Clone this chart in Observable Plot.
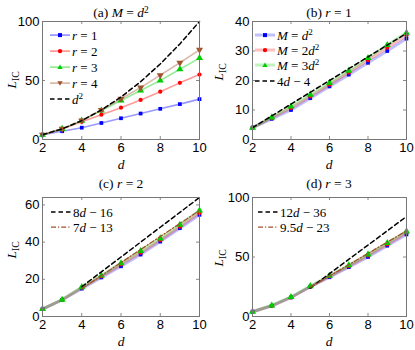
<!DOCTYPE html>
<html><head><meta charset="utf-8">
<script src="https://cdn.jsdelivr.net/npm/d3@7"></script>
<script src="https://cdn.jsdelivr.net/npm/@observablehq/plot@0.6"></script>
<style>
body{margin:0;background:#fff;}
#fig{position:relative;width:415px;height:350px;overflow:hidden;background:#fff;}
.panel{position:absolute;}
.t{position:absolute;font-family:"Liberation Serif","Times New Roman",serif;font-size:13.5px;white-space:nowrap;color:#000;transform:translate(-50%,-50%);line-height:1;}
.t i{font-style:italic;}
.t sup{font-size:70%;vertical-align:0.5em;line-height:0;}
.ylab{transform:translate(-50%,-50%) rotate(-90deg);}
.ylab sub{font-size:72%;font-style:normal;vertical-align:-0.3em;line-height:0;}
.leg{position:absolute;display:flex;align-items:center;font-family:"Liberation Serif","Times New Roman",serif;font-size:13px;white-space:nowrap;transform:translateY(-50%);line-height:1;}
.leg svg{margin-right:2px;}
.leg sup{font-size:70%;vertical-align:0.5em;line-height:0;}
</style></head>
<body><div id="fig"></div>
<script>
// ---------- data ----------
const dVals = [2, 3, 4, 5, 6, 7, 8, 9, 10];
const xTicks = [2, 4, 6, 8, 10];

// panel (a): M = d^2, different r
const aR1 = [4, 7, 10, 14, 18, 22, 26, 30, 34.2];
const aR2 = [4, 9, 15, 21, 27, 33.5, 40.5, 48, 55];
const aR3 = [4, 9, 16, 24.5, 33, 41.5, 50, 59.5, 69];
const aR4 = [4, 9, 16, 25, 34.5, 44, 54.5, 65, 76];
const aD2 = [4, 9, 16, 25, 36, 49, 64, 81, 100];
const aYTicks = [0, 50, 100];

// panel (b): r = 1, different M
const bM1 = [4, 7, 10, 14, 18, 22, 26, 30, 34.2];
const bM2 = [4, 7.3, 10.7, 14.6, 18.6, 22.7, 26.9, 31.1, 35.3];
const bM3 = [4, 7.5, 11.2, 15.2, 19.2, 23.3, 27.6, 32, 36.2];
const bRef = [4, 8, 12, 16, 20, 24, 28, 32, 36];          // 4d - 4
const bYTicks = [0, 10, 20, 30, 40];

// panel (c): r = 2
const cM1 = [4, 9, 15, 21, 27, 33.3, 40.3, 47.5, 54.7];
const cM2 = [4, 9, 15.5, 21.5, 28, 34.3, 41, 48.3, 55.7];
const cM3 = [4, 9, 15.8, 22, 28.6, 35.2, 42, 49.3, 57];
const cRefD = [4, 5, 6, 7, 8, 9, 10];
const cRef1 = [16, 24, 32, 40, 48, 56, 64];                // 8d - 16
const cRef2 = [15, 22, 29, 36, 43, 50, 57];                // 7d - 13
const cYTicks = [0, 20, 40, 60];

// panel (d): r = 3
const dM1 = [4, 9, 16, 25, 33, 41.5, 50, 59.5, 69];
const dM2 = [4, 9, 16, 25, 33.7, 42.3, 51.2, 60.6, 70.3];
const dM3 = [4, 9.3, 16.4, 25.5, 34.2, 43, 52.2, 61.7, 71.5];
const dRefD = [5, 6, 7, 8, 9, 10];
const dRef1 = [24, 36, 48, 60, 72, 84];                    // 12d - 36
const dRef2 = [24.5, 34, 43.5, 53, 62.5, 72];              // 9.5d - 23
const dYTicks = [0, 50, 100];

// ---------- styles ----------
const sqrt3 = Math.sqrt(3);
const triDown = {draw(ctx, size){const y = -Math.sqrt(size/(sqrt3*3)); ctx.moveTo(0,-y*2); ctx.lineTo(-sqrt3*y, y); ctx.lineTo(sqrt3*y, y); ctx.closePath();}};
const sty = {
  blue:  {c:"#0000ff", sym:"square", r:2.1},
  red:   {c:"#ff0000", sym:"circle", r:2.1},
  green: {c:"#00cc00", sym:"triangle", r:2.6},
  brown: {c:"#a0522d", sym:triDown, r:2.6}
};

function tab(xs, ys){ return xs.map((x,i)=>({x, y: ys[i]})); }

function panel(o){
  const pw = o.w - o.ml - o.mr, ph = o.h - o.mt - o.mb;
  const marks = [
    Plot.axisX(xTicks, {tickSize:0, tickPadding:3, label:null, fontSize:13}),
    Plot.axisY(o.yTicks, {tickSize:0, tickPadding:3, label:null, fontSize:13}),
    Plot.tickX(xTicks, {x:d=>d, insetTop: ph-3, stroke:"#888"}),
    Plot.tickX(xTicks, {x:d=>d, insetBottom: ph-3, stroke:"#888"}),
    Plot.tickY(o.yTicks, {y:d=>d, insetLeft: pw-3, stroke:"#888"}),
    Plot.tickY(o.yTicks, {y:d=>d, insetRight: pw-3, stroke:"#888"}),
  ];
  for (const s of o.series){
    const t = tab(dVals, s.v);
    marks.push(Plot.line(t, {x:"x", y:"y", stroke:s.st.c, strokeOpacity:o.lineOp, strokeWidth:o.lineW}));
  }
  for (const s of o.series){
    const t = tab(dVals, s.v);
    marks.push(Plot.dot(t, {x:"x", y:"y", fill:s.st.c, stroke:"none", symbol:s.st.sym, r:s.st.r}));
  }
  for (const rf of o.refs){
    marks.push(Plot.line(tab(rf.x, rf.v), {x:"x", y:"y", stroke:rf.c, strokeWidth:rf.w, strokeDasharray:rf.dash}));
  }
  marks.push(Plot.frame({stroke:"#777"}));
  const svg = Plot.plot({
    width:o.w, height:o.h, marginLeft:o.ml, marginRight:o.mr, marginTop:o.mt, marginBottom:o.mb,
    x:{domain:[2,10]}, y:{domain:[0,o.ymax]},
    style:{fontFamily:"'Liberation Sans', Arial, sans-serif", fontSize:"13px", color:"#000", background:"transparent", overflow:"visible"},
    marks
  });
  const div = document.createElement("div");
  div.className = "panel";
  div.style.left = o.left+"px"; div.style.top = o.top+"px";
  div.appendChild(svg);
  document.getElementById("fig").appendChild(div);
}

const dashK = "4.5,3";
const dashDot = "5,2,1.2,2";

panel({left:0, top:0, w:210, h:175, ml:42, mr:11, mt:21, mb:36, ymax:100, yTicks:aYTicks, lineOp:0.4, lineW:1.6,
  series:[{v:aR1, st:sty.blue},{v:aR2, st:sty.red},{v:aR3, st:sty.green},{v:aR4, st:sty.brown}],
  refs:[{x:dVals, v:aD2, c:"#000", w:1.5, dash:dashK}]});
panel({left:210, top:0, w:205, h:175, ml:42, mr:9, mt:21, mb:36, ymax:40, yTicks:bYTicks, lineOp:0.25, lineW:3,
  series:[{v:bM1, st:sty.blue},{v:bM2, st:sty.red},{v:bM3, st:sty.green}],
  refs:[{x:dVals, v:bRef, c:"#000", w:1.5, dash:dashK}]});
panel({left:0, top:175, w:210, h:175, ml:42, mr:11, mt:22, mb:34, ymax:64, yTicks:cYTicks, lineOp:0.25, lineW:3,
  series:[{v:cM1, st:sty.blue},{v:cM2, st:sty.red},{v:cM3, st:sty.green}],
  refs:[{x:cRefD, v:cRef1, c:"#000", w:1.5, dash:dashK},{x:cRefD, v:cRef2, c:"#a0522d", w:1.3, dash:dashDot}]});
panel({left:210, top:175, w:205, h:175, ml:42, mr:9, mt:22, mb:34, ymax:100, yTicks:dYTicks, lineOp:0.25, lineW:3,
  series:[{v:dM1, st:sty.blue},{v:dM2, st:sty.red},{v:dM3, st:sty.green}],
  refs:[{x:dRefD, v:dRef1, c:"#000", w:1.5, dash:dashK},{x:dRefD, v:dRef2, c:"#a0522d", w:1.3, dash:dashDot}]});

// ---------- text ----------
const fig = document.getElementById("fig");
function txt(html, x, y, cls){ const e=document.createElement("div"); e.className="t"+(cls?" "+cls:""); e.style.left=x+"px"; e.style.top=y+"px"; e.innerHTML=html; fig.appendChild(e); }
txt("(a) <i>M</i> = <i>d</i><sup>2</sup>", 121, 13);
txt("(b) <i>r</i> = 1", 329, 13);
txt("(c) <i>r</i> = 2", 121, 184);
txt("(d) <i>r</i> = 3", 329, 184);
for (const [x,y] of [[121,165],[329,165],[121,342],[329,342]]) txt("<i>d</i>", x, y);
for (const [x,y] of [[12,80],[219,72],[12,250],[219,258]]) txt("<i>L</i><sub>IC</sub>", x, y, "ylab");

// ---------- legends ----------
function sym(st){
  const c = st.c;
  if (st.sym==="square") return `<rect x="8" y="2.6" width="4" height="4" fill="${c}"/>`;
  if (st.sym==="circle") return `<circle cx="10" cy="4.6" r="2.2" fill="${c}"/>`;
  if (st.sym==="triangle") return `<polygon points="10,1.9 12.7,6.4 7.3,6.4" fill="${c}"/>`;
  return `<polygon points="10,7.3 12.7,2.8 7.3,2.8" fill="${c}"/>`;
}
function leg(x, y, html, opt){
  const e=document.createElement("div"); e.className="leg"; e.style.left=x+"px"; e.style.top=y+"px";
  let s = `<svg width="20" height="9" viewBox="0 0 20 9">`;
  if (opt.st) s += `<line x1="0" y1="4.6" x2="20" y2="4.6" stroke="${opt.st.c}" stroke-opacity="${opt.op}" stroke-width="${opt.w}"/>` + sym(opt.st);
  else s += `<line x1="0" y1="4.6" x2="20" y2="4.6" stroke="${opt.c}" stroke-width="${opt.w}" stroke-dasharray="${opt.dash}"/>`;
  s += `</svg>`;
  e.innerHTML = s + `<span>${html}</span>`;
  fig.appendChild(e);
}
leg(50, 35, "<i>r</i> = 1", {st:sty.blue, op:0.4, w:1.6});
leg(50, 51, "<i>r</i> = 2", {st:sty.red, op:0.4, w:1.6});
leg(50, 67, "<i>r</i> = 3", {st:sty.green, op:0.4, w:1.6});
leg(50, 83, "<i>r</i> = 4", {st:sty.brown, op:0.4, w:1.6});
leg(50, 99, "<i>d</i><sup>2</sup>", {c:"#000", w:1.5, dash:dashK});

leg(255, 35, "<i>M</i> = <i>d</i><sup>2</sup>", {st:sty.blue, op:0.25, w:3});
leg(255, 50, "<i>M</i> = 2<i>d</i><sup>2</sup>", {st:sty.red, op:0.25, w:3});
leg(255, 65, "<i>M</i> = 3<i>d</i><sup>2</sup>", {st:sty.green, op:0.25, w:3});
leg(255, 81, "4<i>d</i> − 4", {c:"#000", w:1.5, dash:dashK});

leg(51, 212, "8<i>d</i> − 16", {c:"#000", w:1.5, dash:dashK});
leg(51, 227, "7<i>d</i> − 13", {c:"#a0522d", w:1.3, dash:dashDot});
leg(258, 212, "12<i>d</i> − 36", {c:"#000", w:1.5, dash:dashK});
leg(258, 227, "9.5<i>d</i> − 23", {c:"#a0522d", w:1.3, dash:dashDot});
</script></body></html>
